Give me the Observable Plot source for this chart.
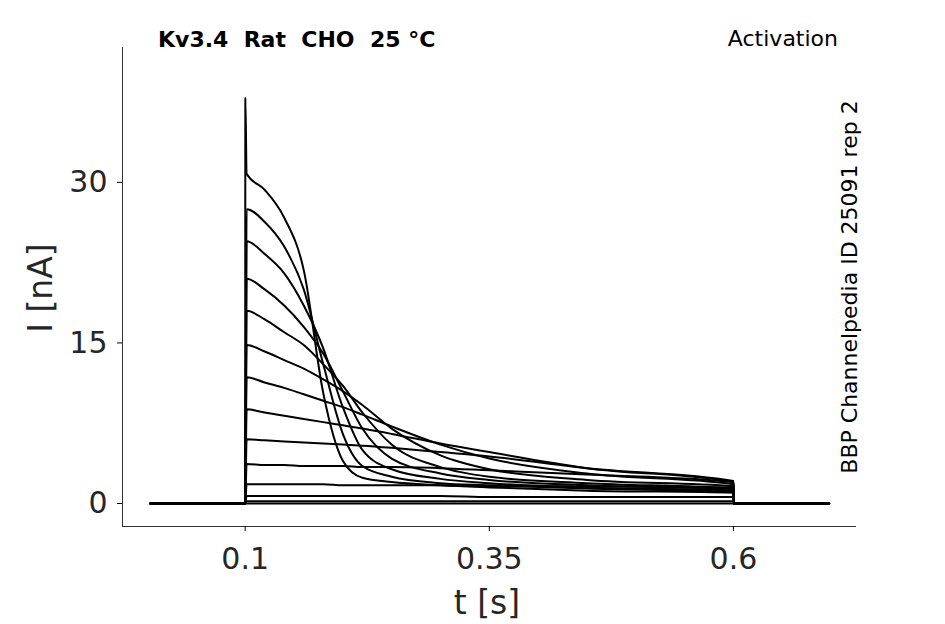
<!DOCTYPE html>
<html><head><meta charset="utf-8">
<script src="https://cdn.jsdelivr.net/npm/d3@7"></script>
<script src="https://cdn.jsdelivr.net/npm/@observablehq/plot@0.6"></script>
<style>body{margin:0;background:#fff}</style>
</head><body><div id="c"></div>
<script>
const stepTimes = [0.1015, 0.12, 0.14, 0.16, 0.18, 0.2, 0.22, 0.25, 0.3, 0.35, 0.45, 0.6];
const traces = [
  [30.8, 29.3, 26.7, 21.8, 10.3, 4.0, 2.4, 2.0, 1.7, 1.5, 1.2, 1.0],
  [27.5, 26.3, 24.0, 20.0, 13.0, 6.5, 3.5, 2.5, 1.9, 1.7, 1.4, 1.1],
  [24.5, 23.3, 21.5, 18.5, 14.5, 9.0, 5.0, 3.2, 2.3, 1.9, 1.5, 1.2],
  [21.0, 20.0, 18.5, 16.5, 14.0, 10.5, 7.0, 4.2, 2.8, 2.2, 1.7, 1.3],
  [18.0, 17.2, 16.0, 14.8, 13.0, 11.0, 8.5, 5.5, 3.4, 2.5, 1.9, 1.4],
  [14.8, 14.2, 13.4, 12.6, 11.6, 10.5, 9.2, 7.0, 4.5, 3.2, 2.2, 1.6],
  [11.8, 11.3, 10.8, 10.2, 9.6, 9.0, 8.3, 7.2, 5.5, 4.2, 2.8, 1.8],
  [8.8, 8.5, 8.2, 7.9, 7.6, 7.3, 7.0, 6.5, 5.6, 4.8, 3.3, 2.0],
  [6.0, 5.9, 5.8, 5.7, 5.6, 5.5, 5.4, 5.2, 4.8, 4.4, 3.3, 2.1],
  [3.7, 3.6, 3.6, 3.5, 3.5, 3.5, 3.4, 3.4, 3.3, 3.1, 2.7, 2.0],
  [1.8, 1.8, 1.8, 1.8, 1.8, 1.7, 1.7, 1.7, 1.7, 1.6, 1.6, 1.5],
  [0.7, 0.7, 0.7, 0.7, 0.7, 0.7, 0.7, 0.7, 0.7, 0.6, 0.6, 0.6],
  [0.2, 0.2, 0.2, 0.2, 0.2, 0.2, 0.2, 0.2, 0.2, 0.2, 0.2, 0.2],
  [0.0, 0.0, 0.0, 0.0, 0.0, 0.0, 0.0, 0.0, 0.0, 0.0, 0.0, 0.0]
];
const peak = 37.9;
const tStart = 0.003, tOn = 0.1, tOff = 0.6, tEnd = 0.698;
const xTicks = [0.1, 0.35, 0.6];
const yTicks = [0, 15, 30];

const data = [];
traces.forEach((vals, k) => {
  const pts = [{t: tStart, v: 0}, {t: tOn, v: 0}];
  if (k === 0) pts.push({t: tOn + 0.0002, v: peak});
  stepTimes.forEach((t, i) => pts.push({t, v: vals[i]}));
  pts.push({t: tOff + 0.0005, v: 0}, {t: tEnd, v: 0});
  pts.forEach(p => data.push({...p, k}));
});

const xd = [-0.0256, 0.726], yd = [-2.15, 42.6];
const chart = Plot.plot({
  width: 945, height: 624,
  marginLeft: 122, marginRight: 89, marginTop: 47, marginBottom: 98,
  style: {fontFamily: "DejaVu Sans", background: "#fff"},
  x: {domain: xd, ticks: xTicks, tickFormat: d => String(d), label: null},
  y: {domain: yd, ticks: yTicks, label: null},
  marks: [
    Plot.ruleX([xd[0]], {stroke: "#333"}),
    Plot.ruleY([yd[0]], {stroke: "#333"}),
    Plot.axisX({ticks: xTicks, tickFormat: d => String(d), fontSize: 30, fill: "#262626", tickSize: 5, tickPadding: 16, label: null}),
    Plot.axisY({ticks: yTicks, fontSize: 30, fill: "#262626", tickSize: 5, tickPadding: 10, label: null}),
    Plot.line(data, {x: "t", y: "v", z: "k", stroke: "black", strokeWidth: 2, curve: "monotone-x"})
  ]
});
const svg = d3.select(chart);
const T = (s) => svg.append("text").attr("font-family", "DejaVu Sans").text(s);
T("Kv3.4  Rat  CHO  25 °C").attr("x", 158).attr("y", 47).attr("text-anchor", "start").attr("font-size", 22).attr("font-weight", "bold").style("white-space", "pre");
T("Activation").attr("x", 838).attr("y", 46).attr("text-anchor", "end").attr("font-size", 22);
T("BBP Channelpedia ID 25091 rep 2").attr("transform", "translate(857,287) rotate(-90)").attr("text-anchor", "middle").attr("font-size", 22);
T("I [nA]").attr("transform", "translate(52,288) rotate(-90)").attr("text-anchor", "middle").attr("font-size", 33).attr("fill", "#262626");
T("t [s]").attr("x", 487).attr("y", 614).attr("text-anchor", "middle").attr("font-size", 33).attr("fill", "#262626");
document.getElementById("c").append(chart);
</script></body></html>
